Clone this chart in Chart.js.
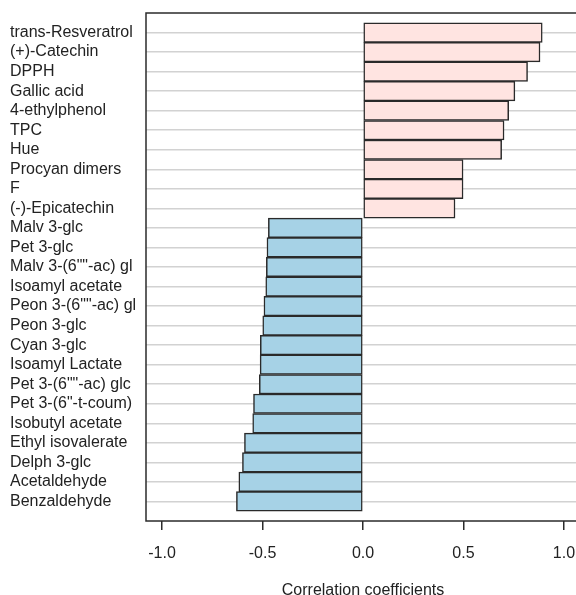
<!DOCTYPE html>
<html>
<head>
<meta charset="utf-8">
<script src="https://cdn.jsdelivr.net/npm/chart.js@4"></script>
<style>
  html, body { margin: 0; padding: 0; background: #fff; overflow: hidden; }
  #wrap { width: 576px; height: 595px; overflow: hidden; }
</style>
</head>
<body>
<div id="wrap"><canvas id="mycanvas" width="600" height="595"></canvas></div>
<script>
var compounds = [
	"trans-Resveratrol", "(+)-Catechin", "DPPH", "Gallic acid", "4-ethylphenol",
	"TPC", "Hue", "Procyan dimers", "F", "(-)-Epicatechin",
	"Malv 3-glc", "Pet 3-glc", "Malv 3-(6\"\"-ac) gl", "Isoamyl acetate", "Peon 3-(6\"\"-ac) gl",
	"Peon 3-glc", "Cyan 3-glc", "Isoamyl Lactate", "Pet 3-(6\"\"-ac) glc", "Pet 3-(6\"-t-coum)",
	"Isobutyl acetate", "Ethyl isovalerate", "Delph 3-glc", "Acetaldehyde", "Benzaldehyde"
];
var coefficients = [
	0.892, 0.881, 0.819, 0.756, 0.725,
	0.702, 0.690, 0.498, 0.498, 0.458,
	-0.471, -0.478, -0.481, -0.484, -0.493,
	-0.499, -0.511, -0.512, -0.516, -0.545,
	-0.549, -0.590, -0.600, -0.618, -0.630
];
var xTicks = [-1.0, -0.5, 0.0, 0.5, 1.0];

var pink = "#ffe4e1";
var blue = "#a6d2e6";
var ink = "#222222";
var font = { family: "'Liberation Sans', Arial, sans-serif", size: 16 };

// box around the plot region (R style)
var boxPlugin = {
	id: "box",
	afterDraw: function(chart) {
		var a = chart.chartArea, c = chart.ctx;
		c.save();
		c.strokeStyle = "#2b2b2b";
		c.lineWidth = 1.5;
		c.strokeRect(a.left, a.top, a.right - a.left, a.bottom - a.top);
		c.restore();
	}
};

var ctx = document.getElementById("mycanvas");
var barGraph = new Chart(ctx, {
	type: "bar",
	data: {
		labels: compounds,
		datasets: [{
			data: coefficients,
			backgroundColor: coefficients.map(function(v){ return v > 0 ? pink : blue; }),
			borderColor: "#2a2a2a",
			borderWidth: 1.5,
			borderSkipped: false,
			barPercentage: 1,
			categoryPercentage: 1
		}]
	},
	plugins: [boxPlugin],
	options: {
		responsive: false,
		animation: false,
		indexAxis: "y",
		layout: { padding: { left: 10, right: 20, top: 13, bottom: 0 } },
		plugins: { legend: { display: false }, tooltip: { enabled: false } },
		scales: {
			x: {
				min: -1.08,
				max: 1.08,
				afterBuildTicks: function(scale) {
					scale.ticks = xTicks.map(function(v){ return { value: v }; });
				},
				afterFit: function(scale) { scale.height = 74; },
				border: { display: false },
				grid: { drawOnChartArea: false, drawTicks: true, tickLength: 9, tickColor: "#2b2b2b", lineWidth: 1.5 },
				ticks: {
					color: ink,
					padding: 14,
					font: font,
					callback: function(v){ return Number(v).toFixed(1); }
				},
				title: {
					display: true,
					text: "Correlation coefficients",
					color: ink,
					padding: { top: 0, bottom: -5 },
					font: font
				}
			},
			y: {
				// extra half bar of empty space above and below, like R's barplot
				afterBuildTicks: function(scale) {
					scale._startValue -= 0.5;
					scale._valueRange += 1;
				},
				afterFit: function(scale) { scale.width = 136; },
				border: { display: false },
				grid: { offset: false, drawTicks: false, color: "#d2d2d2", lineWidth: 1.5 },
				ticks: {
					autoSkip: false,
					crossAlign: "far",
					color: ink,
					font: font
				}
			}
		}
	}
});
</script>
</body>
</html>
